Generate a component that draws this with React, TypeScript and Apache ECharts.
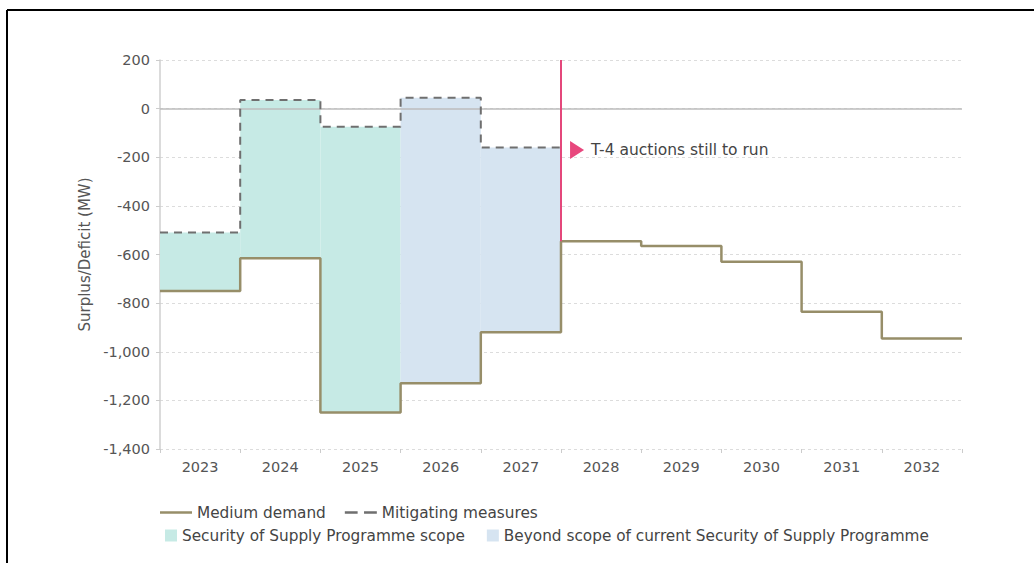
import React, { useEffect, useRef } from "react";
import * as echarts from "echarts";

const years = ["2023", "2024", "2025", "2026", "2027", "2028", "2029", "2030", "2031", "2032"];
const mediumDemand = [-750, -615, -1250, -1130, -920, -545, -565, -630, -835, -945];
const mitigatingMeasures = [-510, 35, -75, 45, -160];
const scopeYearIdx = [0, 1, 2];
const beyondYearIdx = [3, 4];
const yTicks = { min: -1400, max: 200, interval: 200 };
const auctionLabel = "T-4 auctions still to run";
const auctionYearIdx = 5;

const stepData = (vals: number[]) =>
  vals.map((v, i) => [i, v]).concat([[vals.length, vals[vals.length - 1]]]);

const fillRows = (idx: number[]) =>
  idx.map((i) => [i, i + 1, Math.min(mediumDemand[i], mitigatingMeasures[i]), Math.max(mediumDemand[i], mitigatingMeasures[i])]);

const FONT = "'DejaVu Sans', 'Noto Sans', sans-serif";

const rectRender = (color: string) => (params: any, api: any) => {
  const x0 = api.value(0), x1 = api.value(1), lo = api.value(2), hi = api.value(3);
  const p0 = api.coord([x0, hi]);
  const p1 = api.coord([x1, lo]);
  return {
    type: "rect",
    shape: { x: p0[0], y: p0[1], width: p1[0] - p0[0], height: p1[1] - p0[1] },
    style: { fill: color },
  };
};

export default function App() {
  const ref = useRef<HTMLDivElement>(null);
  useEffect(() => {
    document.body.style.margin = "0";
    const chart = echarts.init(ref.current!, null, { renderer: "svg" });
    const teal = "#c6eae5";
    const blue = "#d6e4f1";
    const olive = "#978e69";
    const grey = "#6f6f6f";
    chart.setOption({
      animation: false,
      backgroundColor: "#ffffff",
      textStyle: { fontFamily: FONT },
      grid: { left: 160, right: 72, top: 60, bottom: 114 },
      legend: [
        {
          data: [
            { name: "Medium demand", icon: "path://M0,0H32V2.5H0Z" },
            { name: "Mitigating measures", icon: "path://M0,0H12V2.5H0Z M18,0H30V2.5H18Z" },
          ],
          left: 155,
          top: 500,
          itemWidth: 32,
          itemHeight: 14,
          itemGap: 19,
          itemStyle: { borderWidth: 0 },
          textStyle: { fontFamily: FONT, fontSize: 15.3, color: "#444" },
        },
        {
          data: ["Security of Supply Programme scope", "Beyond scope of current Security of Supply Programme"],
          left: 160,
          top: 523,
          itemWidth: 12,
          itemHeight: 12,
          itemGap: 22,
          icon: "rect",
          itemStyle: { borderWidth: 0 },
          textStyle: { fontFamily: FONT, fontSize: 15.3, color: "#444" },
        },
      ],
      xAxis: [
        { type: "value", min: 0, max: years.length, show: false },
        {
          type: "category",
          data: years,
          position: "bottom",
          boundaryGap: true,
          axisLine: { show: false },
          axisTick: { show: true, length: 4, lineStyle: { color: "#ccc" } },
          axisLabel: { fontFamily: FONT, fontSize: 14.5, color: "#555", margin: 10 },
        },
      ],
      yAxis: {
        type: "value",
        min: yTicks.min,
        max: yTicks.max,
        interval: yTicks.interval,
        name: "Surplus/Deficit (MW)",
        nameLocation: "middle",
        nameGap: 64,
        nameTextStyle: { fontFamily: FONT, fontSize: 15, color: "#555" },
        axisLine: { show: true, lineStyle: { color: "#cfcfcf", width: 1.5 } },
        axisTick: { show: true, length: 4, lineStyle: { color: "#ccc" } },
        axisLabel: {
          fontFamily: FONT,
          fontSize: 14.5,
          color: "#555",
          margin: 10,
          formatter: (v: number) => v.toLocaleString("en-US"),
        },
        splitLine: { show: true, lineStyle: { color: "#dcdcdc", type: [3, 3] } },
      },
      series: [
        {
          name: "Security of Supply Programme scope",
          type: "custom",
          xAxisIndex: 0,
          renderItem: rectRender(teal),
          itemStyle: { color: teal },
          encode: { x: [0, 1], y: [2, 3] },
          data: fillRows(scopeYearIdx),
          z: 1,
        },
        {
          name: "Beyond scope of current Security of Supply Programme",
          type: "custom",
          xAxisIndex: 0,
          renderItem: rectRender(blue),
          itemStyle: { color: blue },
          encode: { x: [0, 1], y: [2, 3] },
          data: fillRows(beyondYearIdx),
          z: 1,
        },
        {
          name: "Medium demand",
          type: "line",
          xAxisIndex: 0,
          step: "end",
          symbol: "none",
          showSymbol: false,
          lineStyle: { color: olive, width: 2.5 },
          itemStyle: { color: olive },
          data: stepData(mediumDemand),
          z: 4,
          markLine: {
            silent: true,
            symbol: "none",
            label: { show: false },
            lineStyle: { color: "#bdbdbd", width: 1.5, type: "solid" },
            data: [{ yAxis: 0 }],
            z: 2,
          },
        },
        {
          name: "Mitigating measures",
          type: "line",
          xAxisIndex: 0,
          step: "end",
          symbol: "none",
          showSymbol: false,
          lineStyle: { color: grey, width: 2, type: [8, 6] },
          itemStyle: { color: grey },
          data: stepData(mitigatingMeasures),
          z: 4,
          markLine: {
            silent: true,
            symbol: "none",
            label: { show: false },
            lineStyle: { color: "#e4477b", width: 2, type: "solid" },
            data: [[{ coord: [auctionYearIdx, yTicks.max] }, { coord: [auctionYearIdx, mediumDemand[auctionYearIdx]] }]],
            z: 5,
          },
          markPoint: {
            silent: true,
            symbol: "path://M0,0L14,9L0,18Z",
            symbolSize: [14, 18],
            itemStyle: { color: "#e8477d" },
            label: {
              show: true,
              position: "right",
              distance: 7,
              formatter: auctionLabel,
              fontFamily: FONT,
              fontSize: 15.5,
              color: "#444",
            },
            data: [{ coord: [auctionYearIdx + 0.2, -170] }],
          },
        },
      ],
      graphic: [
        { type: "line", shape: { x1: 7, y1: 10, x2: 1034, y2: 10 }, style: { stroke: "#000", lineWidth: 2 } },
        { type: "line", shape: { x1: 7, y1: 10, x2: 7, y2: 563 }, style: { stroke: "#000", lineWidth: 2 } },
      ],
    });
    return () => chart.dispose();
  }, []);
  return <div ref={ref} style={{ width: 1034, height: 563 }} />;
}
